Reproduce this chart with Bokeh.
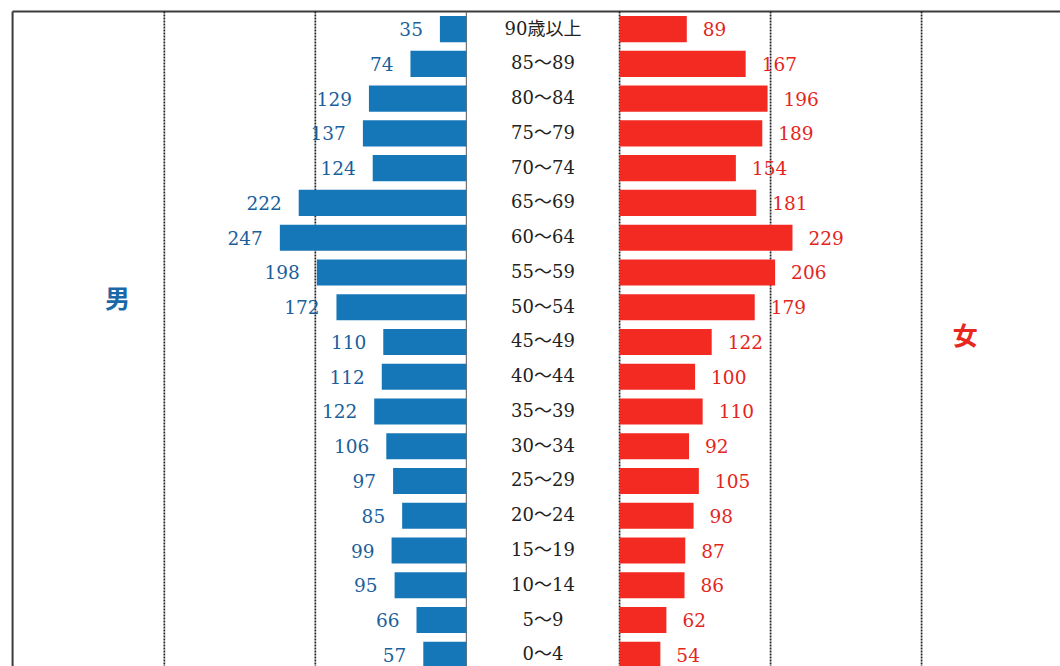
from bokeh.plotting import figure
from bokeh.models import Range1d, ColumnDataSource
from bokeh.core.properties import value
from bokeh.embed import file_html
from bokeh.resources import INLINE

# Age groups, youngest first (bottom row of the pyramid)
ages = ["0～4", "5～9", "10～14", "15～19", "20～24", "25～29", "30～34",
        "35～39", "40～44", "45～49", "50～54", "55～59", "60～64",
        "65～69", "70～74", "75～79", "80～84", "85～89", "90歳以上"]
male = [57, 66, 95, 99, 85, 97, 106, 122, 112, 110, 172, 198, 247, 222,
        124, 137, 129, 74, 35]
female = [54, 62, 86, 87, 98, 105, 92, 110, 100, 122, 179, 206, 229, 181,
          154, 189, 196, 167, 89]
grid_steps = [200, 400]

GAP = 203          # width of the centre column holding the age labels
BLUE = "#1677b8"
BLUE_TXT = "#1b5f9c"
RED = "#f32a22"
RED_TXT = "#e3261d"
SERIF = value("DejaVu Serif, Noto Sans CJK JP")

rows = list(range(len(ages)))
src = ColumnDataSource(dict(
    y=rows,
    age=ages,
    m=male,
    f=female,
    m_left=[-v for v in male],
    m_right=[0] * len(male),
    f_left=[GAP] * len(female),
    f_right=[GAP + v for v in female],
    mid=[GAP / 2] * len(ages),
    m_lbl=[str(v) for v in male],
    f_lbl=[str(v) for v in female],
))

p = figure(width=1060, height=666, output_backend="svg", toolbar_location=None,
           x_range=Range1d(-617, 787), y_range=Range1d(-0.337, 18.823),
           min_border=0)
p.axis.visible = False
p.grid.visible = False
p.outline_line_color = None
p.background_fill_color = "white"
p.border_fill_color = "white"

top = 18.507
bottom = -0.5

# frame: top rule and left rule
p.segment(x0=[-601], y0=[top], x1=[800], y1=[top], line_color="#3a3a3a", line_width=2)
p.segment(x0=[-601], y0=[top], x1=[-601], y1=[bottom], line_color="#3a3a3a", line_width=2)

# dotted scale lines on both sides
xs = [-s for s in grid_steps] + [GAP] + [GAP + s for s in grid_steps]
p.segment(x0=xs, y0=[top] * len(xs), x1=xs, y1=[bottom] * len(xs),
          line_color="#222222", line_width=1.7, line_dash="2 1")
# male zero line
p.segment(x0=[0], y0=[top], x1=[0], y1=[bottom], line_color="#555555", line_width=1)

# bars
p.hbar(y="y", left="m_left", right="m_right", height=0.75, source=src,
       fill_color=BLUE, line_color=None)
p.hbar(y="y", left="f_left", right="f_right", height=0.75, source=src,
       fill_color=RED, line_color=None)

# value labels
p.text(x="m_left", y="y", text="m_lbl", source=src, x_offset=-17, y_offset=0,
       text_align="right", text_baseline="middle", text_font=SERIF,
       text_font_size="18.5px", text_color=BLUE_TXT)
p.text(x="f_right", y="y", text="f_lbl", source=src, x_offset=16, y_offset=0,
       text_align="left", text_baseline="middle", text_font=SERIF,
       text_font_size="18.5px", text_color=RED_TXT)

# age group labels in the centre column
p.text(x="mid", y="y", text="age", source=src, y_offset=-1,
       text_align="center", text_baseline="middle", text_font=SERIF,
       text_font_size="18px", text_color="#222222")

# sex headings
p.text(x=[-462], y=[10.28], text=["男"], text_align="center", text_baseline="middle",
       text_font=value("Noto Sans CJK JP"), text_font_style="bold",
       text_font_size="25px", text_color="#1a68a8")
p.text(x=[661], y=[9.24], text=["女"], text_align="center", text_baseline="middle",
       text_font=value("Noto Sans CJK JP"), text_font_style="bold",
       text_font_size="25px", text_color="#e8281e")

open("out.html", "w").write(file_html(p, INLINE))
